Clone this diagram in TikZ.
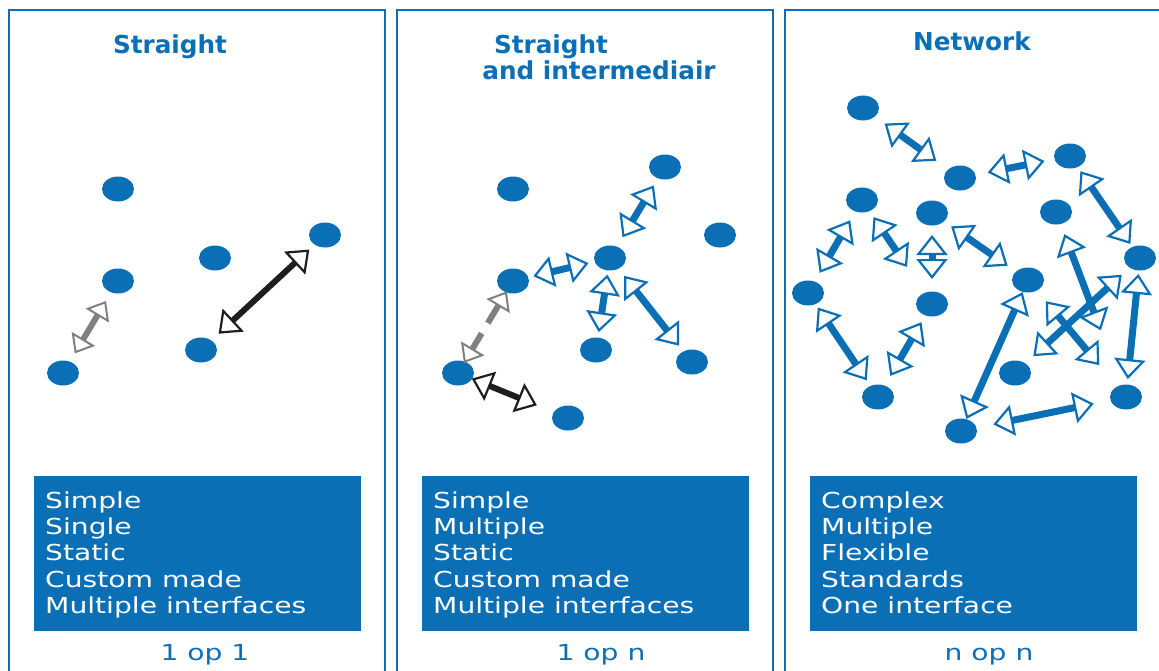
\documentclass[tikz,border=0pt]{standalone}
\usepackage{fontspec}
\setmainfont{DejaVu Sans}
\newfontfamily\widefont[FakeStretch=1.28]{DejaVu Sans}
\usetikzlibrary{arrows.meta,shapes.geometric}
\definecolor{panelblue}{RGB}{11,111,182}
\definecolor{arrowgray}{RGB}{128,128,128}
\definecolor{arrowblack}{RGB}{30,30,30}

\begin{document}
\begin{tikzpicture}[x=1pt,y=-1pt,
    >={Triangle[fill=white,length=20pt,width=31pt,line width=2.2pt]},
    dot/.style={ellipse,fill=panelblue,minimum width=32pt,minimum height=25pt,inner sep=0pt},
    panel/.style={draw=panelblue,line width=2.5pt},
    link/.style={<->,draw=panelblue,line width=7pt},
    greylink/.style={<->,draw=arrowgray,line width=6pt},
    darklink/.style={<->,draw=arrowblack,line width=6pt},
    paneltitle/.style={text=panelblue,font=\fontsize{24.7}{30}\selectfont\bfseries,anchor=base,inner sep=0pt},
    item/.style={text=white,font=\widefont\fontsize{22}{26}\selectfont,anchor=base west,inner sep=0pt},
    optag/.style={text=panelblue,font=\widefont\fontsize{22}{26}\selectfont,anchor=base,inner sep=0pt}]
  \useasboundingbox (0,0) rectangle (1159,670);
  \clip (0,0) rectangle (1159,670);

  % panels
  \draw[panel] (9,10) rectangle (385,690);
  \draw[panel] (397,10) rectangle (773,690);
  \draw[panel] (785,10) rectangle (1180,690);

  \node[paneltitle] (t1) at (170,53) {Straight};
  \node[paneltitle] (t2a) at (551,53) {Straight};
  \node[paneltitle] (t2b) at (599,79) {and intermediair};
  \node[paneltitle] (t3) at (972,50) {Network};

  % dots
  \foreach \n/\x/\y in {a/118/189, b/118/281, c/215/258, d/325/235, e/63/373, f/201/350,
      g/513/189, h/665/167, i/720/235, j/513/281, k/610/258, l/458/373, m/596/350, n/692/362, o/568/418,
      p/863/108, q/960/178, r/1070/156, s/862/200, t/932/213, u/1056/212, v/1140/258,
      w/808/293, x/1028/280, y/932/304, z/1015/373, aa/878/397, bb/1126/397, cc/961/431}
    \node[dot] (\n) at (\x,\y) {};

  % arrows
  \draw[greylink,>={Triangle[fill=white,length=17pt,width=27pt,line width=2pt]},
    shorten <=22.8,shorten >=23.3] (e.center) -- (b.center);
  \draw[darklink,shorten <=24,shorten >=21.4] (f.center) -- (d.center);
  \draw[greylink,>={Triangle[fill=white,length=17pt,width=27pt,line width=2pt]},
    dash pattern=on 18pt off 12pt on 60pt,shorten <=11.7,shorten >=12.1] (l.center) -- (j.center);
  \draw[darklink,shorten <=14.9,shorten >=33.6] (l.center) -- (o.center);
  \foreach \a/\b/\sa/\sb in {k/h/24.2/21.5, j/k/20.9/22.1, k/m/16.8/18.1, k/n/22.7/20.8,
      p/q/26.6/29.2, q/r/28.2/26, r/v/18.4/17, s/w/23.5/23.3, s/y/20.6/44.7, t/y/22/25,
      t/x/23.3/24.8, w/aa/17.5/20.2, y/aa/21/24.4, x/cc/13.3/13.2, u/bb/23.7/71.2,
      v/z/24.8/24.8, x/bb/27.6/41.6, v/bb/16.1/18, cc/bb/33/33}
    \draw[link,shorten <=\sa,shorten >=\sb] (\a.center) -- (\b.center);

  % text boxes
  \foreach \x in {34,422,810}
    \fill[panelblue] (\x,476) rectangle ++(327,155);
  \foreach \t [count=\i] in {Simple,Single,Static,Custom made,Multiple interfaces}
    \node[item] (s1-\i) at (45,481.6+26.4*\i) {\t};
  \foreach \t [count=\i] in {Simple,Multiple,Static,Custom made,Multiple interfaces}
    \node[item] (s2-\i) at (433,481.6+26.4*\i) {\t};
  \foreach \t [count=\i] in {Complex,Multiple,Flexible,Standards,One interface}
    \node[item] (s3-\i) at (821,481.6+26.4*\i) {\t};

  \node[optag] (o1) at (205,660) {1 op 1};
  \node[optag] (o2) at (601,660) {1 op n};
  \node[optag] (o3) at (989,660) {n op n};
\end{tikzpicture}
\end{document}
